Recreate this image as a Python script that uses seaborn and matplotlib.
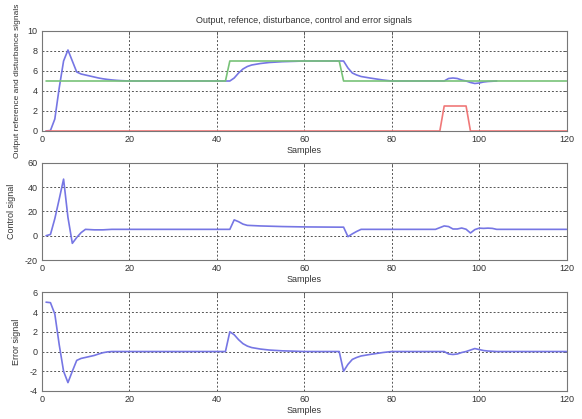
import numpy as np
import pandas as pd
import matplotlib
matplotlib.use("Agg")
import matplotlib.pyplot as plt
import seaborn as sns

# ---------------- data ----------------
out_x = [1, 2, 3, 4, 5, 6, 7, 8, 9, 10, 11, 12, 13, 14, 15, 16, 17, 18, 19, 20,
         42, 43, 44, 45, 46, 47, 48, 50, 52, 55, 58, 60,
         68, 69, 70, 71, 72, 73, 75, 78, 80,
         92, 93, 94, 95, 96, 97, 98, 99, 100, 101, 102, 104]
out_y = [0, 0.05, 1.2, 4.3, 7.0, 8.1, 7.0, 5.9, 5.7, 5.6, 5.5, 5.4, 5.3, 5.22, 5.16, 5.11, 5.07, 5.04, 5.02, 5.0,
         5.0, 5.0, 5.3, 5.8, 6.2, 6.45, 6.6, 6.75, 6.85, 6.93, 6.97, 7.0,
         7.0, 7.0, 6.3, 5.8, 5.6, 5.45, 5.3, 5.1, 5.0,
         5.0, 5.25, 5.3, 5.25, 5.1, 5.0, 4.85, 4.75, 4.8, 4.9, 4.95, 5.0]

ref_x = [1, 42, 43, 68, 69, 120]
ref_y = [5, 5, 7, 7, 5, 5]

dist_x = [1, 91, 92, 97, 98, 120]
dist_y = [0, 0, 2.5, 2.5, 0, 0]

ctrl_x = [1, 2, 3, 4, 5, 6, 7, 8, 9, 10, 12, 14, 16,
          43, 44, 45, 46, 47, 50, 55, 60, 68, 69, 70, 71, 72, 73,
          90, 92, 93, 94, 95, 96, 97, 98, 99, 100, 101, 102, 103, 104, 120]
ctrl_y = [0, 1, 14, 30, 46.5, 15, -6.3, -1.5, 2.5, 5.2, 4.8, 4.8, 5.2,
          5.2, 13, 11.5, 9.5, 8.5, 8.0, 7.5, 7.2, 7.0, 7.0, -0.8, 1.5, 3.5, 5.2,
          5.2, 8.0, 7.5, 5.5, 5.5, 6.3, 5.3, 2.2, 5.0, 6.2, 6.0, 6.2, 6.0, 5.2, 5.2]

err_x = [1, 2, 3, 4, 5, 6, 7, 8, 9, 10, 11, 12, 13, 14, 15, 16,
         42, 43, 44, 45, 46, 47, 48, 50, 52, 55, 58, 60,
         68, 69, 70, 71, 72, 73, 75, 78, 80,
         92, 93, 94, 95, 96, 97, 98, 99, 100, 101, 102, 104, 120]
err_y = [5.0, 4.95, 3.8, 0.7, -2.0, -3.15, -2.0, -0.9, -0.7, -0.6, -0.5, -0.4, -0.25, -0.12, -0.04, 0,
         0, 2.0, 1.7, 1.2, 0.8, 0.55, 0.4, 0.25, 0.15, 0.07, 0.03, 0,
         0, -2.0, -1.3, -0.8, -0.6, -0.45, -0.3, -0.1, 0,
         0, -0.25, -0.3, -0.25, -0.1, 0.0, 0.15, 0.3, 0.2, 0.1, 0.05, 0, 0]

x_ticks = [0, 20, 40, 60, 80, 100, 120]
y1_ticks = [0, 2, 4, 6, 8, 10]
y2_ticks = [-20, 0, 20, 40, 60]
y3_ticks = [-4, -2, 0, 2, 4, 6]

title = "Output, refence, disturbance, control and error signals"
ylab1 = "Output reference and disturbance signals"
ylab2 = "Control signal"
ylab3 = "Error signal"
xlab = "Samples"

# ---------------- styling ----------------
sns.set_style("white")
plt.rcParams["font.family"] = ["Liberation Sans", "DejaVu Sans"]
plt.rcParams["font.size"] = 6.5

BLUE = "#7676e4"
GREEN = "#78c278"
RED = "#f07878"
TXT = "#333333"

fig = plt.figure(figsize=(5.82, 4.19), dpi=100)
W, H = 582, 419
L, R = 41.7, 566.7


def make_ax(top, bottom):
    return fig.add_axes([L / W, 1 - bottom / H, (R - L) / W, (bottom - top) / H])


ax1 = make_ax(31, 131)
ax2 = make_ax(162.7, 260)
ax3 = make_ax(292.3, 391)

df_out = pd.DataFrame({"x": out_x, "y": out_y})
df_ref = pd.DataFrame({"x": ref_x, "y": ref_y})
df_dist = pd.DataFrame({"x": dist_x, "y": dist_y})
df_ctrl = pd.DataFrame({"x": ctrl_x, "y": ctrl_y})
df_err = pd.DataFrame({"x": err_x, "y": err_y})

lw = 1.2
sns.lineplot(data=df_out, x="x", y="y", ax=ax1, color=BLUE, lw=lw, zorder=3)
sns.lineplot(data=df_ref, x="x", y="y", ax=ax1, color=GREEN, lw=lw, zorder=4)
sns.lineplot(data=df_dist, x="x", y="y", ax=ax1, color=RED, lw=lw, zorder=4)
sns.lineplot(data=df_ctrl, x="x", y="y", ax=ax2, color=BLUE, lw=lw, zorder=3)
sns.lineplot(data=df_err, x="x", y="y", ax=ax3, color=BLUE, lw=lw, zorder=3)

specs = [(ax1, y1_ticks, ylab1, -0.040, 6.0),
         (ax2, y2_ticks, ylab2, -0.048, 6.5),
         (ax3, y3_ticks, ylab3, -0.040, 6.5)]
for ax, yt, yl, lx, fs in specs:
    ax.set_xlim(0, 120)
    ax.set_ylim(yt[0], yt[-1])
    ax.set_xticks(x_ticks)
    ax.set_yticks(yt)
    ax.set_xticklabels([str(v) for v in x_ticks])
    ax.set_yticklabels([str(v) for v in yt])
    ax.tick_params(direction="in", length=3, width=0.6, colors="#555555",
                   labelcolor=TXT, labelsize=6.5, pad=3, top=True, right=True)
    ax.grid(True, color="#555555", linestyle=(0, (2, 2)), linewidth=0.7)
    for s in ax.spines.values():
        s.set_color("#777777")
        s.set_linewidth(0.8)
    ax.set_xlabel(xlab, color=TXT, fontsize=6.5, labelpad=1)
    ax.set_ylabel(yl, color=TXT, fontsize=fs)
    ax.yaxis.set_label_coords(lx, 0.5)

ax1.set_title(title, color=TXT, fontsize=6.5, pad=6)

fig.savefig("out.png", dpi=100, facecolor="white")
